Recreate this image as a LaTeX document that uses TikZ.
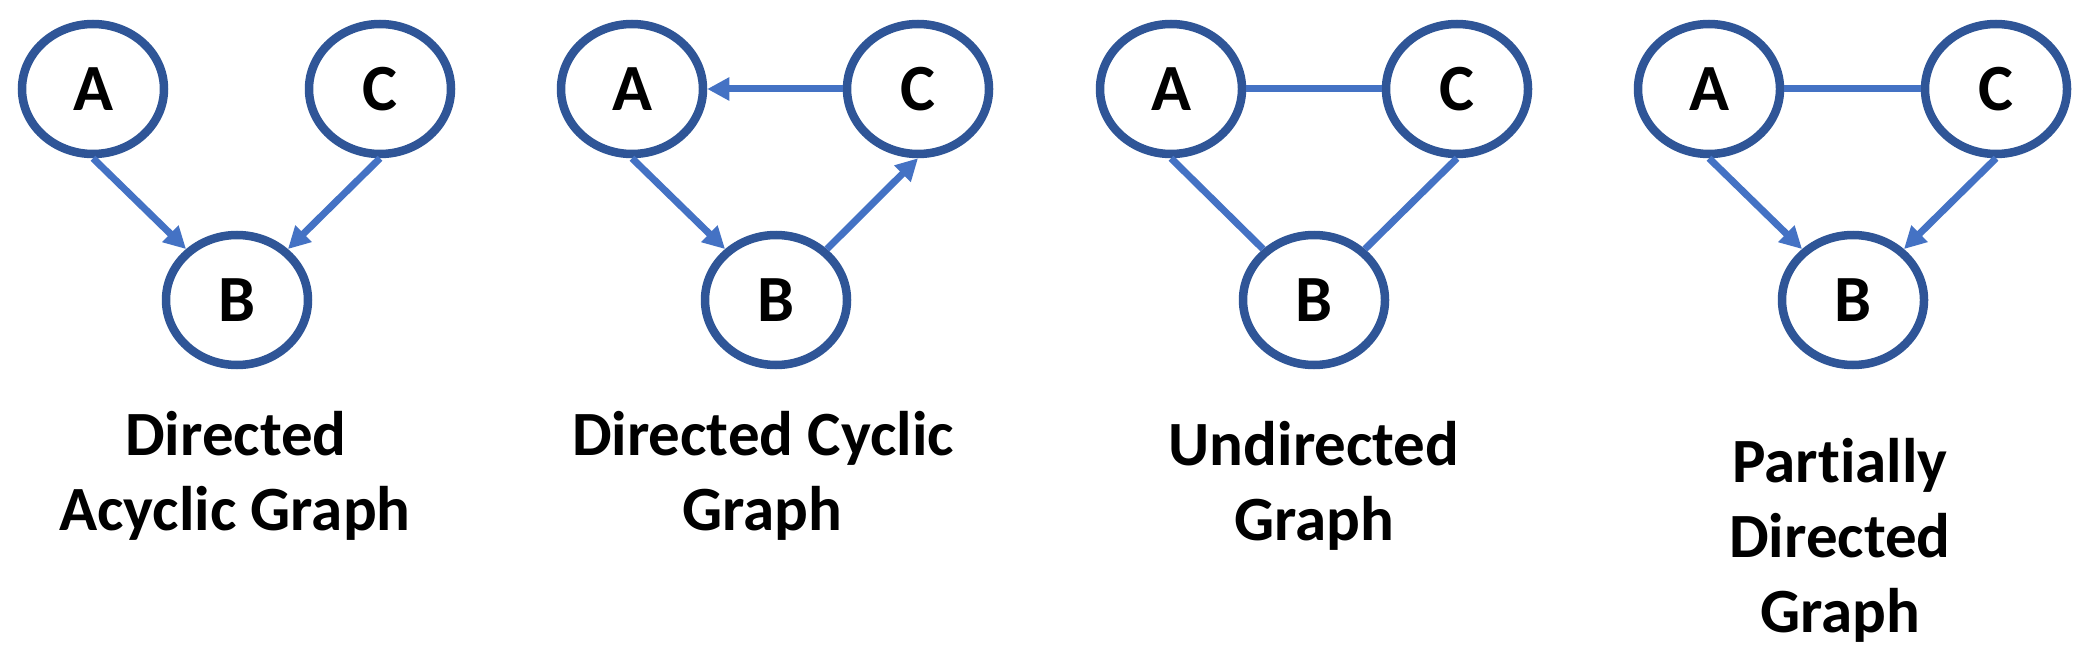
\documentclass[tikz,border=0pt]{standalone}
\usepackage{fontspec}
\setmainfont{Carlito}[Ligatures=NoCommon]
\usetikzlibrary{arrows.meta,shapes.geometric}
\definecolor{ringblue}{HTML}{2F5597}
\definecolor{edgeblue}{HTML}{4472C4}
\begin{document}
\begin{tikzpicture}[x=1pt,y=-1pt,
  vert/.style={ellipse, draw=ringblue, line width=8.5pt, minimum width=142pt, minimum height=130pt, inner sep=0pt, font=\fontsize{66}{66}\selectfont\bfseries},
  arr/.style={draw=edgeblue, line width=7pt, -{Triangle[length=22pt,width=22pt]}},
  und/.style={draw=edgeblue, line width=7pt},
  lab/.style={font=\fontsize{63}{75}\selectfont\bfseries, anchor=base, inner sep=0pt}]
\path[use as bounding box, fill=white] (0,0) rectangle (2077,658);
% Panel 1: DAG
\node[vert] (a1) at (93,89) {A};
\node[vert] (c1) at (380,89) {C};
\node[vert] (b1) at (237,300) {B};
\draw[arr] (a1.south) -- (b1.135);
\draw[arr] (c1.south) -- (b1.45);
\node[lab] (t1a) at (236,455) {Directed};
\node[lab] (t1b) at (235,530) {Acyclic Graph};
% Panel 2: DCG
\node[vert] (a2) at (632,89) {A};
\node[vert] (c2) at (918,89) {C};
\node[vert] (b2) at (776,300) {B};
\draw[arr] (c2.west) -- (a2.east);
\draw[arr] (a2.south) -- (b2.135);
\draw[arr] (b2.45) -- (c2.south);
\node[lab] (t2a) at (763,455) {Directed Cyclic};
\node[lab] (t2b) at (762,530) {Graph};
% Panel 3: Undirected
\node[vert] (a3) at (1171,89) {A};
\node[vert] (c3) at (1457,89) {C};
\node[vert] (b3) at (1314,300) {B};
\draw[und] (a3.east) -- (c3.west);
\draw[und] (a3.south) -- (b3.135);
\draw[und] (c3.south) -- (b3.45);
\node[lab] (t3a) at (1314,465) {Undirected};
\node[lab] (t3b) at (1314,540) {Graph};
% Panel 4: Partially directed
\node[vert] (a4) at (1709,89) {A};
\node[vert] (c4) at (1996,89) {C};
\node[vert] (b4) at (1853,300) {B};
\draw[und] (a4.east) -- (c4.west);
\draw[arr] (a4.south) -- (b4.135);
\draw[arr] (c4.south) -- (b4.45);
\node[lab] (t4a) at (1840,482) {Partially};
\node[lab] (t4b) at (1840,557) {Directed};
\node[lab] (t4c) at (1840,632) {Graph};
\end{tikzpicture}
\end{document}
